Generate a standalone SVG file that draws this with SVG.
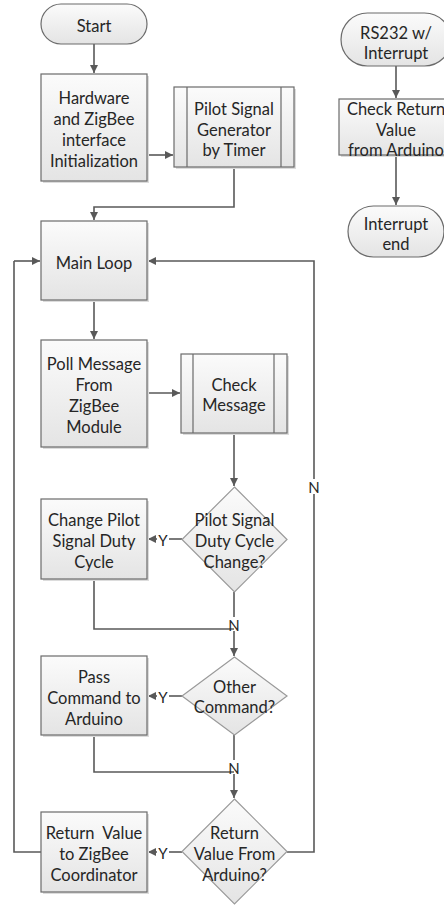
<svg xmlns="http://www.w3.org/2000/svg" width="444" height="905" viewBox="0 0 444 905">
<style>
.box{fill:url(#g);stroke:#6b6b6b;stroke-width:1.2}
.dia{fill:url(#g);stroke:#9a9a9a;stroke-width:1.2}
.sh{fill:#dcdcdc}
.t{font-family:Lato,"Open Sans",sans-serif;font-size:16.5px;fill:#262626;text-anchor:middle;dominant-baseline:central;transform:translate(0px,1.5px)}
.lb{font-family:Lato,"Open Sans",sans-serif;font-size:15px;fill:#262626;text-anchor:middle;dominant-baseline:central;transform:translate(0px,1px)}
.c{fill:none;stroke:#595959;stroke-width:1.6}
.ca{fill:none;stroke:#595959;stroke-width:1.6;marker-end:url(#ah)}
.in{fill:none;stroke:#6b6b6b;stroke-width:1.2}
</style>
<defs>
<linearGradient id="g" x1="0" y1="0" x2="0" y2="1">
<stop offset="0" stop-color="#fbfbfb"/>
<stop offset="1" stop-color="#e4e4e4"/>
</linearGradient>
<marker id="ah" viewBox="0 0 10 10" refX="10" refY="5" markerWidth="8" markerHeight="8" markerUnits="userSpaceOnUse" orient="auto">
<path d="M0,0 L10,5 L0,10 z" fill="#595959"/>
</marker>
</defs>
<rect width="444" height="905" fill="#ffffff"/>

<g id="connectors">
<path class="ca" d="M94,44 V73"/>
<path class="ca" d="M147,155 H173"/>
<path class="ca" d="M234,167 V207 H94 V220"/>
<path class="ca" d="M94,300 V339"/>
<path class="ca" d="M147,393 H180"/>
<path class="ca" d="M234,433 V486"/>
<path class="c" d="M182,539 H169"/>
<path class="ca" d="M157,539 H148"/>
<path class="c" d="M234,592 V617"/>
<path class="c" d="M94,579 V629 H234"/>
<path class="ca" d="M234,631 V656"/>
<path class="c" d="M182,696 H169"/>
<path class="ca" d="M157,696 H148"/>
<path class="c" d="M234,735 V760"/>
<path class="c" d="M94,735 V772 H234"/>
<path class="ca" d="M234,774 V798"/>
<path class="c" d="M182,852 H169"/>
<path class="ca" d="M157,852 H148"/>
<path class="c" d="M41,852 H14 V261"/>
<path class="ca" d="M14,261 H40"/>
<path class="c" d="M287,852 H314 V494"/>
<path class="ca" d="M314,479 V261 H148"/>
<path class="ca" d="M396,66 V98"/>
<path class="ca" d="M396,155 V205"/>
<text class="lb" x="163" y="539">Y</text>
<text class="lb" x="163" y="696">Y</text>
<text class="lb" x="163" y="852">Y</text>
<text class="lb" x="234" y="624">N</text>
<text class="lb" x="234" y="767">N</text>
<text class="lb" x="314" y="486">N</text>
</g>

<g id="start">
<rect class="box" x="41" y="4" width="106" height="40" rx="20"/>
<text class="t" x="94" y="24">Start</text>
</g>

<g id="hw-init">
<rect class="sh" x="43" y="76" width="106" height="107"/>
<rect class="box" x="41" y="74" width="106" height="107"/>
<text class="t" x="94" y="96">Hardware</text>
<text class="t" x="94" y="117">and ZigBee</text>
<text class="t" x="94" y="138">interface</text>
<text class="t" x="94" y="159">Initialization</text>
</g>

<g id="pilot-gen">
<rect class="sh" x="176" y="89" width="120" height="80"/>
<rect class="box" x="174" y="87" width="120" height="80"/>
<path class="in" d="M187,87 V167 M281,87 V167"/>
<text class="t" x="234" y="107">Pilot Signal</text>
<text class="t" x="234" y="128">Generator</text>
<text class="t" x="234" y="148">by Timer</text>
</g>

<g id="main-loop">
<rect class="sh" x="43" y="223" width="106" height="79"/>
<rect class="box" x="41" y="221" width="106" height="79"/>
<text class="t" x="94" y="261">Main Loop</text>
</g>

<g id="poll">
<rect class="sh" x="43" y="342" width="106" height="107"/>
<rect class="box" x="41" y="340" width="106" height="107"/>
<text class="t" x="94" y="362">Poll Message</text>
<text class="t" x="94" y="383">From</text>
<text class="t" x="94" y="404">ZigBee</text>
<text class="t" x="94" y="425">Module</text>
</g>

<g id="check-msg">
<rect class="sh" x="183" y="356" width="106" height="79"/>
<rect class="box" x="181" y="354" width="106" height="79"/>
<path class="in" d="M193,354 V433 M274,354 V433"/>
<text class="t" x="234" y="383">Check</text>
<text class="t" x="234" y="403">Message</text>
</g>

<g id="dec-duty">
<polygon class="dia" points="234.5,487 287,539.5 234.5,592 182,539.5"/>
<text class="t" x="234.5" y="518">Pilot Signal</text>
<text class="t" x="234.5" y="539">Duty Cycle</text>
<text class="t" x="234.5" y="560">Change?</text>
</g>

<g id="change-duty">
<rect class="sh" x="43" y="501" width="106" height="80"/>
<rect class="box" x="41" y="499" width="106" height="80"/>
<text class="t" x="94" y="518">Change Pilot</text>
<text class="t" x="94" y="539">Signal Duty</text>
<text class="t" x="94" y="560">Cycle</text>
</g>

<g id="dec-other">
<polygon class="dia" points="234.5,657 287,696 234.5,735 182,696"/>
<text class="t" x="234.5" y="685">Other</text>
<text class="t" x="234.5" y="705">Command?</text>
</g>

<g id="pass-cmd">
<rect class="sh" x="43" y="658" width="106" height="79"/>
<rect class="box" x="41" y="656" width="106" height="79"/>
<text class="t" x="94" y="675">Pass</text>
<text class="t" x="94" y="696">Command to</text>
<text class="t" x="94" y="717">Arduino</text>
</g>

<g id="dec-return">
<polygon class="dia" points="234.5,799 287,851.5 234.5,904 182,851.5"/>
<text class="t" x="234.5" y="831">Return</text>
<text class="t" x="234.5" y="852">Value From</text>
<text class="t" x="234.5" y="873">Arduino?</text>
</g>

<g id="return-val">
<rect class="sh" x="43" y="814" width="106" height="80"/>
<rect class="box" x="41" y="812" width="106" height="80"/>
<text class="t" x="94" y="831" style="white-space:pre">Return  Value</text>
<text class="t" x="94" y="852">to ZigBee</text>
<text class="t" x="94" y="873">Coordinator</text>
</g>

<g id="rs232">
<rect class="box" x="341" y="13" width="110" height="53" rx="26.5"/>
<text class="t" x="396" y="31">RS232 w/</text>
<text class="t" x="396" y="51">Interrupt</text>
</g>

<g id="check-return">
<rect class="sh" x="341" y="101" width="114" height="56"/>
<rect class="box" x="339" y="99" width="114" height="56"/>
<text class="t" x="396" y="107">Check Return</text>
<text class="t" x="396" y="128">Value</text>
<text class="t" x="396" y="148">from Arduino</text>
</g>

<g id="int-end">
<rect class="box" x="348" y="206" width="96" height="51" rx="25.5"/>
<text class="t" x="396" y="222">Interrupt</text>
<text class="t" x="396" y="242">end</text>
</g>
</svg>
